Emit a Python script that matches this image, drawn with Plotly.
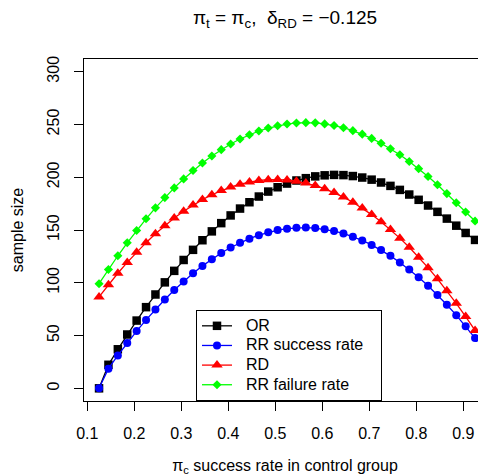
import plotly.graph_objects as go

x_vals = [0.125, 0.145, 0.165, 0.185, 0.205, 0.225, 0.245, 0.265, 0.285, 0.305,
          0.325, 0.345, 0.365, 0.385, 0.405, 0.425, 0.445, 0.465, 0.485, 0.505,
          0.525, 0.545, 0.565, 0.585, 0.605, 0.625, 0.645, 0.665, 0.685, 0.705,
          0.725, 0.745, 0.765, 0.785, 0.805, 0.825, 0.845, 0.865, 0.885, 0.905, 0.925]

or_vals = [0.0, 22.3, 37.0, 51.0, 64.2, 76.9, 88.9, 100.4, 111.3, 121.6,
           131.2, 140.3, 148.7, 156.5, 163.8, 170.3, 176.3, 181.7, 186.4, 190.5,
           194.0, 196.9, 199.1, 200.8, 201.8, 202.2, 202.0, 201.1, 199.7, 197.7,
           195.0, 191.8, 188.0, 183.6, 178.6, 173.2, 167.2, 160.8, 154.1, 147.2, 140.6]

rr_success_vals = [0.0, 18.6, 31.2, 43.0, 54.2, 64.8, 74.8, 84.2, 93.1, 101.3,
                   109.0, 116.0, 122.4, 128.2, 133.4, 137.9, 141.8, 145.1, 147.8, 149.9,
                   151.3, 152.1, 152.3, 151.8, 150.7, 149.0, 146.7, 143.7, 140.1, 135.9,
                   131.0, 125.5, 119.3, 112.6, 105.2, 97.2, 88.5, 79.2, 69.3, 58.7, 47.6]

rd_vals = [86.6, 98.1, 109.0, 119.3, 129.0, 138.0, 146.4, 154.1, 161.3, 167.8,
           173.6, 178.8, 183.4, 187.4, 190.7, 193.4, 195.5, 196.9, 197.7, 197.8,
           197.4, 196.3, 194.5, 192.1, 189.1, 185.5, 181.2, 176.3, 170.8, 164.6,
           157.8, 150.4, 142.3, 133.6, 124.2, 114.3, 103.7, 92.4, 80.5, 68.0, 54.9]

rr_failure_vals = [99.1, 112.6, 125.6, 137.9, 149.5, 160.6, 171.0, 180.7, 189.9, 198.4,
                   206.3, 213.5, 220.1, 226.1, 231.5, 236.2, 240.3, 243.8, 246.6, 248.8,
                   250.4, 251.4, 251.7, 251.5, 250.5, 249.0, 246.9, 244.1, 240.8, 236.8,
                   232.2, 227.0, 221.3, 214.9, 208.1, 200.7, 192.8, 184.5, 175.8, 167.1, 158.5]

series_names = ["OR", "RR success rate", "RD", "RR failure rate"]
x_ticks = [0.1, 0.2, 0.3, 0.4, 0.5, 0.6, 0.7, 0.8, 0.9]
y_ticks = [0, 50, 100, 150, 200, 250, 300]

FONT = "Liberation Sans, Arial, Helvetica, sans-serif"
NBSP = "\u00a0"

styles = [
    dict(color="#000000", symbol="square", size=8.5),
    dict(color="#0000FF", symbol="circle", size=8),
    dict(color="#FF0000", symbol="triangle-up", size=10),
    dict(color="#00FF00", symbol="diamond", size=7),
]

fig = go.Figure()
for name, vals, st in zip(series_names,
                          [or_vals, rr_success_vals, rd_vals, rr_failure_vals],
                          styles):
    label = ('<span style="font-size:16px">' + NBSP * 2 + name
             + NBSP * 2 + "\u2009</span>")
    fig.add_trace(go.Scatter(
        x=x_vals, y=vals, name=label, mode="lines+markers",
        line=dict(color=st["color"], width=1.3),
        marker=dict(color=st["color"], symbol=st["symbol"], size=st["size"],
                    line=dict(width=0)),
    ))

# The page body has an 8px default margin; size the figure to fill the rest.
fig.update_layout(
    width=478, height=468,
    margin=dict(l=76, r=0, t=51, b=75),
    paper_bgcolor="white", plot_bgcolor="white",
    font=dict(family=FONT, size=16, color="#000000"),
    showlegend=True,
    legend=dict(
        x=0.2786, y=0.0, xanchor="left", yanchor="bottom",
        bordercolor="#000000", borderwidth=1, bgcolor="white",
        font=dict(size=12.8), itemwidth=30, tracegroupgap=0,
    ),
    title=dict(
        text="π<sub>t</sub> = π<sub>c</sub>,  δ<sub>RD</sub> = −0.125",
        x=0.5, xref="paper", xanchor="center", y=0.98, yanchor="middle",
        font=dict(size=19),
    ),
    xaxis=dict(
        range=[0.093, 0.9483], tickvals=x_ticks, ticktext=[str(t) for t in x_ticks],
        showgrid=False, zeroline=False, showline=True, linecolor="#000000",
        linewidth=1, mirror=True, ticks="outside", ticklen=9, tickcolor="#000000",
        ticklabelstandoff=9,
        title=dict(text="π<sub>c</sub> success rate in control group", standoff=18,
                   font=dict(size=16)),
    ),
    yaxis=dict(
        range=[-12, 312], tickvals=y_ticks, ticktext=[str(t) for t in y_ticks],
        showgrid=False, zeroline=False, showline=True, linecolor="#000000",
        linewidth=1, ticks="outside", ticklen=9, tickcolor="#000000",
        tickangle=-90, ticklabelstandoff=9,
        title=dict(text="sample size", standoff=16, font=dict(size=16)),
    ),
)

fig.write_html("out.html")
